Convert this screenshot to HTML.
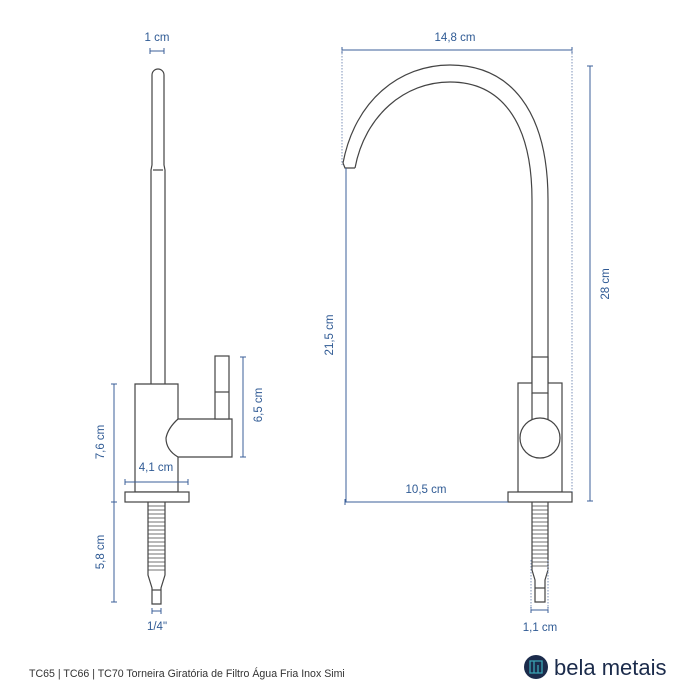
<!DOCTYPE html>
<html><head><meta charset="utf-8"><style>
html,body{margin:0;padding:0;background:#fff;}
svg{display:block}
.t{font-family:"Liberation Sans",sans-serif;font-size:11.5px;fill:#2f5a94}
</style></head><body>
<svg width="700" height="700" viewBox="0 0 700 700" xmlns="http://www.w3.org/2000/svg">
<g fill="none" stroke="#444" stroke-width="1.2">
<!-- left faucet -->
<path d="M151,385 L151,170 L152,165 L152,75 A6,6 0 0 1 164,75 L164,165 L165,170 L165,385"/>
<path d="M153,170 L163,170"/>
<path d="M178,419 L178,384 L135,384 L135,492 L178,492 L178,457" fill="#fff"/>
<path d="M178,419 L232,419 L232,457 L178,457 Q166,450 166,438 Q168,428 178,419 Z" fill="#fff"/>
<rect x="215" y="356" width="14" height="63" fill="#fff"/>
<line x1="215" y1="392" x2="229" y2="392"/>
<rect x="125" y="492" width="64" height="10" fill="#fff"/>
<path d="M148,502 L148,575 L152,588 L152,604 L161,604 L161,588 L165,575 L165,502"/>
<path d="M152,590 L161,590"/>
<g stroke-width="0.8">
<path d="M148,506H165M148,510H165M148,514H165M148,518H165M148,522H165M148,526H165M148,530H165M148,534H165M148,538H165M148,542H165M148,546H165M148,550H165M148,554H165M148,558H165M148,562H165M148,566H165M148,570H165"/>
</g>
<!-- right faucet -->
<path d="M343,163 C355,100 400,65 450,65 C510,65 548,110 548,200 L548,384"/>
<path d="M355,168 C365,115 405,82 450,82 C500,82 532,120 532,200 L532,384"/>
<path d="M343,163 L345,168 L355,168"/>
<rect x="518" y="383" width="44" height="109" fill="#fff"/>
<rect x="532" y="357" width="16" height="36" fill="#fff"/>
<line x1="532" y1="393" x2="532" y2="420"/><line x1="548" y1="393" x2="548" y2="420"/>
<circle cx="540" cy="438" r="20" fill="#fff"/>
<rect x="508" y="492" width="64" height="10" fill="#fff"/>
<path d="M532,502 L532,570 L535,580 L535,602 L545,602 L545,580 L548,570 L548,502"/>
<path d="M535,588 L545,588"/>
<g stroke-width="0.8">
<path d="M532,506H548M532,510H548M532,514H548M532,518H548M532,522H548M532,526H548M532,530H548M532,534H548M532,538H548M532,542H548M532,546H548M532,550H548M532,554H548M532,558H548M532,562H548M532,566H548"/>
</g>
</g>
<!-- dimensions -->
<g stroke="#3b5f99" stroke-width="1" fill="none">
<path d="M150,51H164M150,48V54M164,48V54"/>
<path d="M114,384V602M111,384H117M111,502H117M111,602H117"/>
<path d="M243,357V457M240,357H246M240,457H246"/>
<path d="M125,482H188M125,479V485M188,479V485"/>
<path d="M152,611H161M152,608V614M161,608V614"/>
<path d="M342,50H572M342,47V53M572,47V53"/>
<path d="M590,66V501M587,66H593M587,501H593"/>
<path d="M346,168V502"/>
<path d="M345,502H508M345,499V505"/>
<path d="M531,610H548M531,607V613M548,607V613"/>
<g stroke-dasharray="1.5,1.5" stroke="#7d92b8">
<path d="M342,50V165M572,50V492M531,560V610M548,560V610"/>
</g>
</g>
<g class="t">
<text x="157" y="41" text-anchor="middle">1 cm</text>
<text x="156" y="471" text-anchor="middle">4,1 cm</text>
<text x="157" y="630" text-anchor="middle">1/4"</text>
<text transform="translate(104,442) rotate(-90)" text-anchor="middle">7,6 cm</text>
<text transform="translate(104,552) rotate(-90)" text-anchor="middle">5,8 cm</text>
<text transform="translate(262,405) rotate(-90)" text-anchor="middle">6,5 cm</text>
<text x="455" y="41" text-anchor="middle">14,8 cm</text>
<text transform="translate(609,284) rotate(-90)" text-anchor="middle">28 cm</text>
<text transform="translate(333,335) rotate(-90)" text-anchor="middle">21,5 cm</text>
<text x="426" y="493" text-anchor="middle">10,5 cm</text>
<text x="540" y="631" text-anchor="middle">1,1 cm</text>
</g>
<text x="29" y="677" font-family="Liberation Sans,sans-serif" font-size="10.6" fill="#333">TC65 | TC66 | TC70 Torneira Giratória de Filtro Água Fria Inox Simi</text>
<circle cx="536" cy="667" r="12" fill="#1b2b4b"/>
<path d="M530,661h12v12h-12z M534,661v12 M538,665v8" stroke="#3aa3b4" stroke-width="1.3" fill="none"/>
<text x="554" y="675" font-family="Liberation Sans,sans-serif" font-size="22" fill="#1b2b4b">bela metais</text>
</svg>
</body></html>
